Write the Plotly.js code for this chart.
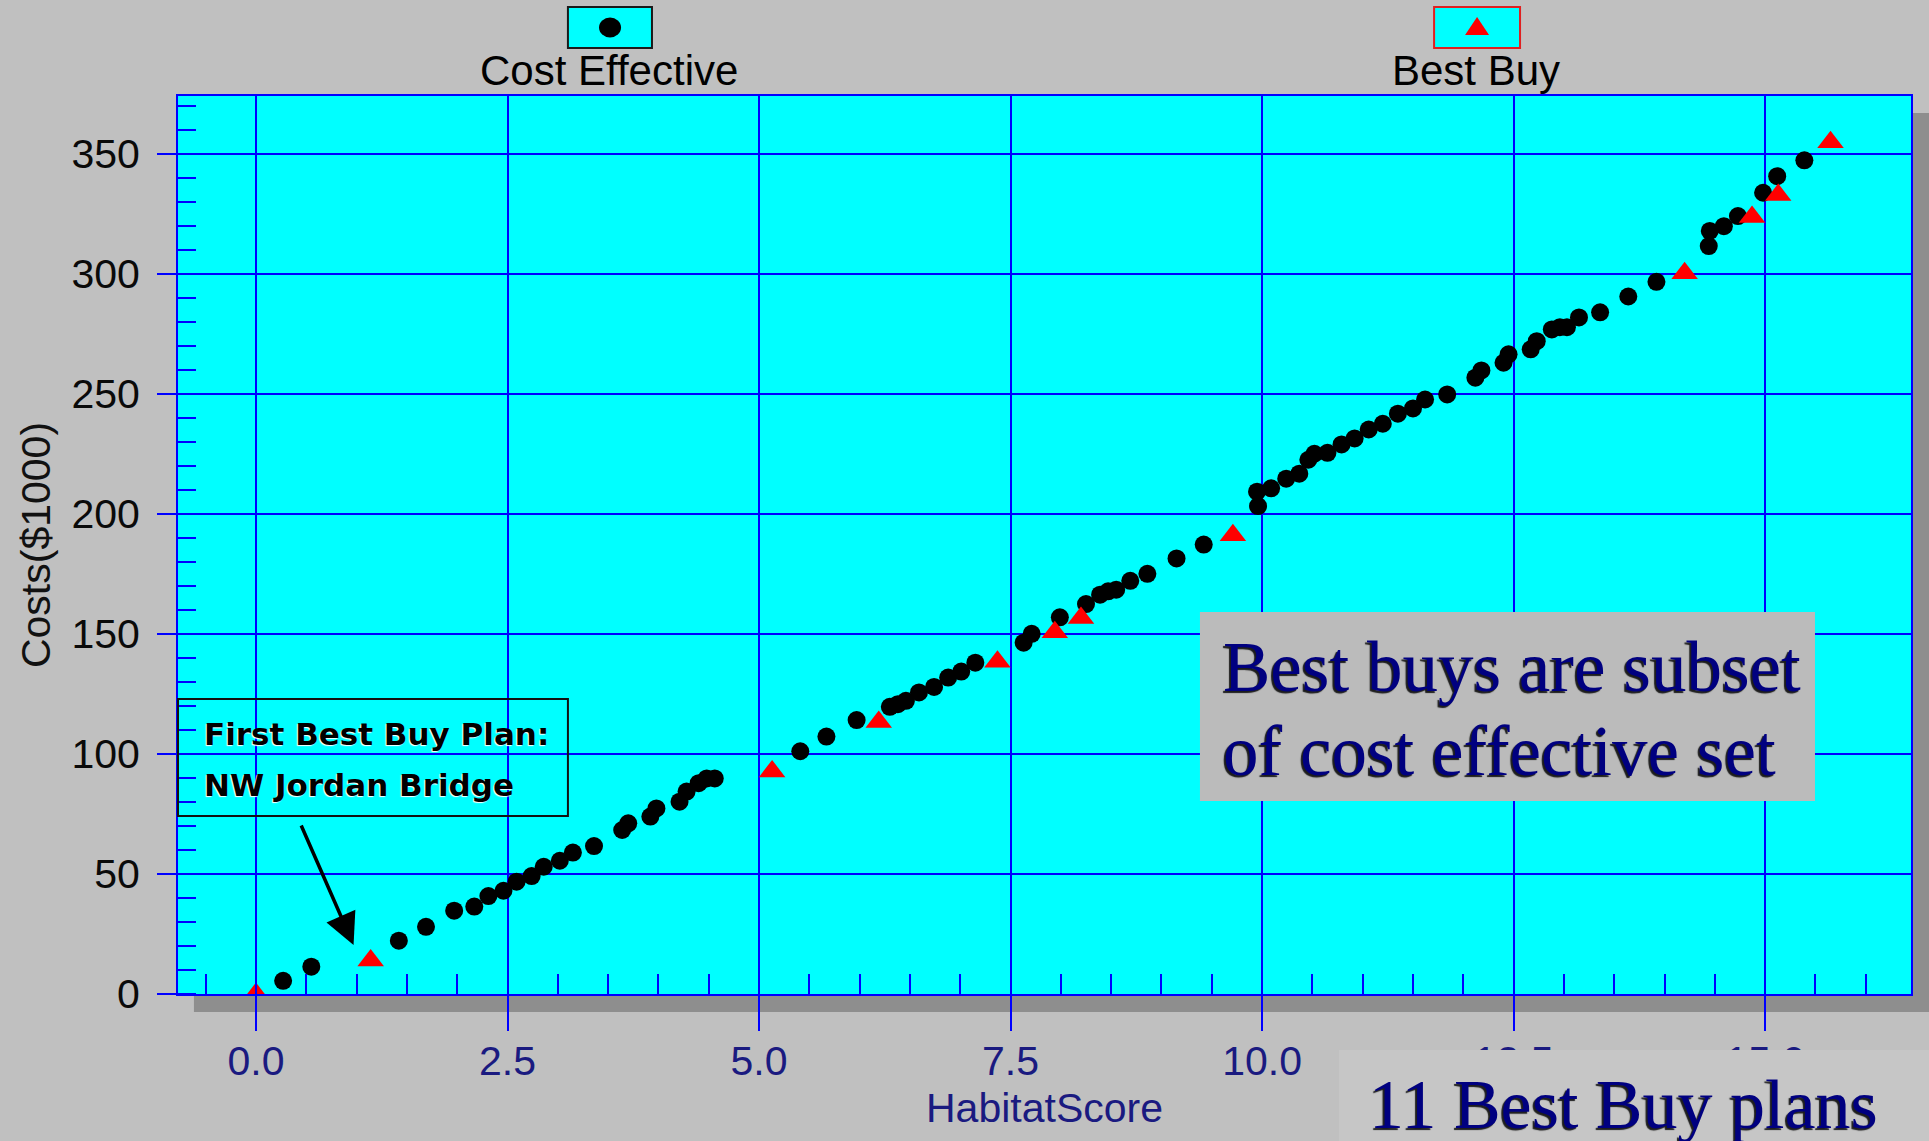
<!DOCTYPE html>
<html>
<head>
<meta charset="utf-8">
<script src="https://cdn.plot.ly/plotly-3.0.1.min.js"></script>
<style>
html,body{margin:0;padding:0;background:#c0c0c0;}
#chart{width:1929px;height:1141px;}
</style>
</head>
<body>
<div id="chart"></div>
<script>
// ---- Data ----
const seriesNames = ['Cost Effective', 'Best Buy'];

const costEffectiveHabitat = [
  0.27, 0.55, 1.42, 1.69, 1.97, 2.17, 2.31, 2.46, 2.59, 2.74, 2.86, 3.02, 3.15, 3.36,
  3.64, 3.70, 3.92, 3.98, 4.21, 4.28, 4.40, 4.48, 4.56,
  5.41, 5.67, 5.97, 6.30, 6.38, 6.46, 6.59, 6.74, 6.88, 7.01, 7.15,
  7.63, 7.71, 7.99, 8.25, 8.39, 8.47, 8.55, 8.69, 8.86, 9.15, 9.42,
  9.96, 9.95, 10.09, 10.24, 10.37, 10.46, 10.52, 10.65, 10.79, 10.92, 11.06, 11.20,
  11.35, 11.50, 11.62, 11.84, 12.12, 12.18, 12.40, 12.45, 12.67, 12.73, 12.88,
  12.96, 13.03, 13.15, 13.36, 13.64, 13.92, 14.44, 14.45, 14.59, 14.73, 14.98, 15.12, 15.39
];
const costEffectiveCost = [
  5.5, 11.4, 22.2, 28.0, 34.7, 36.4, 40.8, 43.0, 46.8, 49.1, 53.0, 55.5, 58.9, 61.6,
  68.3, 71.1, 73.9, 77.3, 80.1, 84.3, 87.8, 89.8, 89.8,
  101.1, 107.2, 114.1, 119.6, 120.7, 122.1, 125.6, 127.9, 131.8, 134.3, 138.0,
  146.3, 150.0, 156.9, 162.4, 166.3, 167.7, 168.4, 172.1, 175.0, 181.4, 187.2,
  203.2, 209.2, 210.6, 214.6, 216.7, 222.5, 225.0, 225.4, 228.9, 231.4, 235.1, 237.5,
  241.7, 243.9, 247.6, 249.7, 256.7, 259.7, 262.9, 266.4, 268.5, 271.9, 276.8,
  277.7, 277.7, 281.8, 283.9, 290.5, 296.6, 311.5, 317.8, 319.8, 324.0, 333.7, 340.6, 347.2
];

const bestBuyHabitat = [0.0, 1.14, 5.13, 6.19, 7.37, 7.94, 8.20, 9.71, 14.20, 14.87, 15.13, 15.65];
const bestBuyCost    = [0.0, 14.0, 92.7, 113.3, 138.4, 150.7, 156.6, 191.1, 300.2, 323.6, 332.8, 354.7];

const xTitle = 'HabitatScore';
const yTitle = 'Costs($1000)';
const calloutLines = ['First Best Buy Plan:', 'NW Jordan Bridge'];
const noteLines = ['Best buys are subset', 'of cost effective set'];
const footerText = '11 Best Buy plans';

// ---- Styling ----
const BLUE = '#0000ff';
const NAVY = '#1a1a80';
const SANS = 'Liberation Sans, Arial, sans-serif';
const SERIF = 'Liberation Serif, Times New Roman, serif';

const traces = [
  {
    type: 'scatter', mode: 'markers', name: seriesNames[0],
    x: costEffectiveHabitat, y: costEffectiveCost,
    marker: {symbol: 'circle', size: 18, color: '#000000', line: {width: 0}},
    cliponaxis: true, showlegend: false
  },
  {
    type: 'scatter', mode: 'markers', name: seriesNames[1],
    x: bestBuyHabitat, y: bestBuyCost,
    marker: {symbol: 'triangle-up', size: 23, color: '#ff0000', line: {width: 0}},
    cliponaxis: true, showlegend: false
  }
];

const serifShadow = '-2px 2px 1px rgba(0,0,0,0.85)';

const layout = {
  width: 1929, height: 1141,
  paper_bgcolor: '#c0c0c0',
  plot_bgcolor: '#00ffff',
  margin: {l: 178, r: 18, t: 96, b: 147, autoexpand: false},
  showlegend: false,
  hovermode: false,
  font: {family: SANS, size: 41, color: '#000000'},
  xaxis: {
    range: [-0.775, 16.45],
    tick0: 0, dtick: 2.5, tickformat: '.1f',
    showgrid: true, gridcolor: BLUE, gridwidth: 2,
    zeroline: false,
    showline: true, linecolor: BLUE, linewidth: 2, mirror: true,
    ticks: 'outside', ticklen: 35, tickwidth: 2, tickcolor: BLUE,
    ticklabelstandoff: -5,
    tickfont: {family: SANS, size: 41, color: NAVY},
    minor: {dtick: 0.5, tick0: 0, ticks: 'inside', ticklen: 20, tickwidth: 2, tickcolor: BLUE, showgrid: false},
    title: {text: xTitle, font: {family: SANS, size: 41, color: NAVY}, standoff: 10},
    automargin: false
  },
  yaxis: {
    range: [0, 374],
    tick0: 0, dtick: 50,
    showgrid: true, gridcolor: BLUE, gridwidth: 2,
    zeroline: false,
    showline: true, linecolor: BLUE, linewidth: 2, mirror: true,
    ticks: 'outside', ticklen: 19, tickwidth: 2, tickcolor: BLUE,
    ticklabelstandoff: 9,
    tickfont: {family: SANS, size: 41, color: '#0a0a0a'},
    minor: {dtick: 10, tick0: 0, ticks: 'inside', ticklen: 18, tickwidth: 2, tickcolor: BLUE, showgrid: false},
    title: {text: yTitle, font: {family: SANS, size: 41, color: '#111111'}, standoff: 8},
    automargin: false
  },
  shapes: [
    // drop shadow of the plot frame
    {type: 'rect', xref: 'paper', yref: 'paper', layer: 'below',
     x0: 0.0092, x1: 1.0104, y0: -0.0200, y1: 0, fillcolor: '#8e8e8e', line: {width: 0}},
    {type: 'rect', xref: 'paper', yref: 'paper', layer: 'below',
     x0: 1.0006, x1: 1.0104, y0: -0.0200, y1: 0.9811, fillcolor: '#8e8e8e', line: {width: 0}},
    // legend boxes
    {type: 'rect', xref: 'paper', yref: 'paper', layer: 'above',
     x0: 0.2250, x1: 0.2735, y0: 1.0535, y1: 1.0991, fillcolor: '#00ffff', line: {color: '#1a1a1a', width: 2}},
    {type: 'rect', xref: 'paper', yref: 'paper', layer: 'above',
     x0: 0.7248, x1: 0.7744, y0: 1.0535, y1: 1.0991, fillcolor: '#00ffff', line: {color: '#e02020', width: 2}},
    // legend symbols
    {type: 'circle', xref: 'paper', yref: 'paper', layer: 'above',
     xsizemode: 'pixel', ysizemode: 'pixel', xanchor: 0.2493, yanchor: 1.0763,
     x0: -11, x1: 11, y0: -10, y1: 10, fillcolor: '#000000', line: {width: 0}},
    {type: 'path', xref: 'paper', yref: 'paper', layer: 'above',
     xsizemode: 'pixel', ysizemode: 'pixel', xanchor: 0.7496, yanchor: 1.0768,
     path: 'M-12,-8L12,-8L0,10Z', fillcolor: '#ff0000', line: {width: 0}},
    // callout frame
    {type: 'rect', xref: 'paper', yref: 'paper', layer: 'above',
     x0: 0.0, x1: 0.2250, y0: 0.1982, y1: 0.3285, fillcolor: 'rgba(0,0,0,0)', line: {color: '#111111', width: 2}},
    // note box
    {type: 'rect', xref: 'paper', yref: 'paper', layer: 'above',
     x0: 0.5897, x1: 0.9446, y0: 0.2149, y1: 0.4254, fillcolor: '#bbbbbb', line: {width: 0}},
    // footer box
    {type: 'rect', xref: 'paper', yref: 'paper', layer: 'above',
     x0: 0.6699, x1: 1.0104, y0: -0.1637, y1: -0.0624, fillcolor: '#c6c6c6', line: {width: 0}}
  ],
  annotations: [
    // legend labels
    {xref: 'paper', yref: 'paper', x: 0.2487, y: 1.0281, xanchor: 'center', yanchor: 'middle',
     text: seriesNames[0], showarrow: false, font: {family: SANS, size: 42, color: '#000000'}},
    {xref: 'paper', yref: 'paper', x: 0.7490, y: 1.0281, xanchor: 'center', yanchor: 'middle',
     text: seriesNames[1], showarrow: false, font: {family: SANS, size: 42, color: '#000000'}},
    // callout text
    {xref: 'paper', yref: 'paper', x: 0.0138, y: 0.2892, xanchor: 'left', yanchor: 'middle',
     text: calloutLines[0], showarrow: false,
     font: {family: 'DejaVu Sans, sans-serif', size: 31, weight: 'bold', color: '#000000', shadow: '-1px 1px 1px #ffffff'}},
    {xref: 'paper', yref: 'paper', x: 0.0138, y: 0.2324, xanchor: 'left', yanchor: 'middle',
     text: calloutLines[1], showarrow: false,
     font: {family: 'DejaVu Sans, sans-serif', size: 31, weight: 'bold', color: '#000000', shadow: '-1px 1px 1px #ffffff'}},
    // arrow pointing to the first best buy plan
    {xref: 'x', yref: 'y', x: 0.97, y: 20.4, ax: -53, ay: -121, text: '',
     showarrow: true, arrowhead: 2, arrowsize: 1.8, arrowwidth: 3.5, arrowcolor: '#000000'},
    // note text
    {xref: 'paper', yref: 'paper', x: 0.6019, y: 0.3636, xanchor: 'left', yanchor: 'middle',
     text: noteLines[0], showarrow: false,
     font: {family: SERIF, size: 71, color: '#000080', shadow: serifShadow}},
    {xref: 'paper', yref: 'paper', x: 0.6019, y: 0.2709, xanchor: 'left', yanchor: 'middle',
     text: noteLines[1], showarrow: false,
     font: {family: SERIF, size: 71, color: '#000080', shadow: serifShadow}},
    // footer text
    {xref: 'paper', yref: 'paper', x: 0.6861, y: -0.1229, xanchor: 'left', yanchor: 'middle',
     text: footerText, showarrow: false,
     font: {family: SERIF, size: 70, color: '#000080', shadow: serifShadow}}
  ]
};

Plotly.newPlot('chart', traces, layout, {displayModeBar: false, staticPlot: true});
</script>
</body>
</html>
